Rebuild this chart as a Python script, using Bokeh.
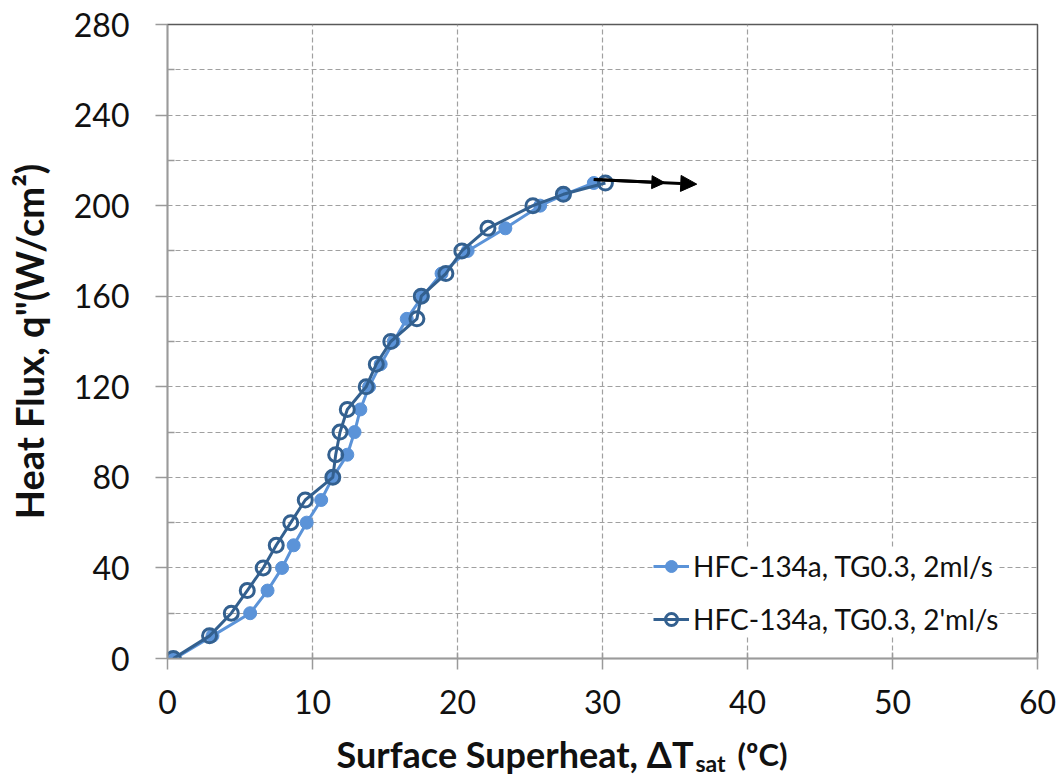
from bokeh.plotting import figure
from bokeh.layouts import column
from bokeh.models import (Range1d, FixedTicker, Legend, LegendItem, Arrow, NormalHead)
from bokeh.core.properties import value
from bokeh.embed import file_html
from bokeh.resources import INLINE

# ---- data ----
flux = [0, 10, 20, 30, 40, 50, 60, 70, 80, 90, 100, 110, 120, 130, 140, 150,
        160, 170, 180, 190, 200, 205, 210]
dt_2ml = [0.5, 3.1, 5.7, 6.9, 7.9, 8.7, 9.6, 10.6, 11.4, 12.4, 12.9, 13.3, 13.9,
          14.7, 15.6, 16.5, 17.6, 18.9, 20.7, 23.3, 25.7, 27.4, 29.4]
dt_2pml = [0.4, 2.9, 4.4, 5.5, 6.6, 7.5, 8.5, 9.5, 11.4, 11.6, 11.9, 12.4, 13.7,
           14.4, 15.4, 17.2, 17.5, 19.2, 20.3, 22.1, 25.2, 27.3, 30.2]
series_names = ["HFC-134a, TG0.3, 2ml/s", "HFC-134a, TG0.3, 2'ml/s"]

x_ticks = [0, 10, 20, 30, 40, 50, 60]
y_ticks = [0, 40, 80, 120, 160, 200, 240, 280]
y_minor = [20, 60, 100, 140, 180, 220, 260]
y_grid = [0, 20, 40, 60, 80, 100, 120, 140, 160, 180, 200, 220, 240, 260, 280]

y_title = 'Heat Flux, q"(W/cm²)'
x_title_parts = ["Surface Superheat, ΔT", "sat", "(ºC)"]

arrow_x = [29.4, 36.5]
arrow_y = [211.5, 209.5]
arrow_mid_x = 34.3

FONT = "Lato"
C1 = "#5B93D8"
C2 = "#33608F"

W, H_MAIN, H_TITLE = 1058, 730, 50
FRAME_L, FRAME_R = 167, 1037

p = figure(width=W, height=H_MAIN, output_backend="svg", toolbar_location=None,
           x_range=Range1d(0, 60), y_range=Range1d(0, 280),
           min_border_left=FRAME_L, min_border_right=W - FRAME_R, min_border_top=24,
           min_border_bottom=72, background_fill_color="white",
           border_fill_color="white")

p.outline_line_color = "#595959"
p.outline_line_width = 1.5

# axes
p.xaxis.ticker = FixedTicker(ticks=x_ticks)
p.yaxis.ticker = FixedTicker(ticks=y_ticks, minor_ticks=y_minor)
for ax in (p.xaxis[0], p.yaxis[0]):
    ax.axis_line_color = "#9a9a9a"
    ax.axis_line_width = 1.5
    ax.major_tick_line_color = "#9a9a9a"
    ax.major_tick_line_width = 1.5
    ax.minor_tick_line_color = "#9a9a9a"
    ax.minor_tick_line_width = 1.5
    ax.major_label_text_font = FONT
    ax.major_label_text_font_size = "32px"
    ax.major_label_text_color = "#111111"
p.xaxis.major_tick_in = 6
p.xaxis.major_tick_out = 11
p.xaxis.minor_tick_line_color = None
p.xaxis.major_label_standoff = 20
p.yaxis.major_tick_in = 0
p.yaxis.major_tick_out = 12
p.yaxis.minor_tick_in = 7
p.yaxis.minor_tick_out = 0
p.yaxis.major_label_standoff = 26
p.yaxis.axis_label = y_title
p.yaxis.axis_label_text_font = FONT
p.yaxis.axis_label_text_font_style = "bold"
p.yaxis.axis_label_text_font_size = "38px"
p.yaxis.axis_label_text_color = "#111111"
p.yaxis.axis_label_standoff = 19

# grids
p.xgrid.ticker = FixedTicker(ticks=x_ticks)
p.ygrid.ticker = FixedTicker(ticks=y_grid)
for g in (p.xgrid[0], p.ygrid[0]):
    g.grid_line_color = "#a0a0a0"
    g.grid_line_dash = "5 3"
    g.grid_line_width = 1.2

# series
l1 = p.line(dt_2ml, flux, line_color=C1, line_width=3)
s1 = p.scatter(dt_2ml, flux, size=13, fill_color=C1, line_color=C1, line_width=1)
l2 = p.line(dt_2pml, flux, line_color=C2, line_width=3)
s2 = p.scatter(dt_2pml, flux, size=14, fill_color=None, line_color=C2, line_width=3)

# arrow
mid_y = arrow_y[0] + (arrow_y[1] - arrow_y[0]) * (arrow_mid_x - arrow_x[0]) / (arrow_x[1] - arrow_x[0])
p.add_layout(Arrow(end=NormalHead(size=13, fill_color="black", line_color="black"),
                   x_start=arrow_x[0], y_start=arrow_y[0], x_end=arrow_mid_x, y_end=mid_y,
                   line_color="black", line_width=3))
p.add_layout(Arrow(end=NormalHead(size=16, fill_color="black", line_color="black"),
                   x_start=arrow_x[0], y_start=arrow_y[0], x_end=arrow_x[1], y_end=arrow_y[1],
                   line_color="black", line_width=3))

legend = Legend(items=[LegendItem(label=series_names[0], renderers=[l1, s1]),
                       LegendItem(label=series_names[1], renderers=[l2, s2])],
                location=(486, 22), background_fill_color="white",
                background_fill_alpha=1.0, border_line_color=None,
                label_text_font=FONT, label_text_font_size="28px",
                label_text_color="#111111", glyph_width=36, glyph_height=30,
                label_height=30, spacing=19, padding=5, label_standoff=4,
                margin=0)
p.add_layout(legend)

# x-axis title strip (composite title with subscript).
# Its frame is aligned with the main frame by the column layout, so the x range
# is expressed in canvas pixels; vertical placement uses pixel offsets from the top.
t = figure(width=W, height=H_TITLE, output_backend="svg", toolbar_location=None,
           x_range=Range1d(FRAME_L, FRAME_R), y_range=Range1d(0, 1),
           min_border=0, min_border_left=FRAME_L, min_border_right=W - FRAME_R,
           min_border_top=0, min_border_bottom=0,
           background_fill_color="white", border_fill_color="white")
t.xaxis.visible = False
t.yaxis.visible = False
t.grid.visible = False
t.outline_line_color = None
t.text(x=[693], y=[1], text=[x_title_parts[0]], text_align="right",
       text_baseline="alphabetic", y_offset=23, text_font=value(FONT),
       text_font_style="bold", text_font_size="36px", text_color="#111111")
t.text(x=[695], y=[1], text=[x_title_parts[1]], text_align="left",
       text_baseline="alphabetic", y_offset=32, text_font=value(FONT),
       text_font_style="bold", text_font_size="23px", text_color="#111111")
t.text(x=[737], y=[1], text=[x_title_parts[2]], text_align="left",
       text_baseline="alphabetic", y_offset=23, text_font=value(FONT),
       text_font_style="bold", text_font_size="31px", text_color="#111111")

layout = column(p, t, spacing=0)
open("out.html", "w").write(file_html(layout, INLINE))
